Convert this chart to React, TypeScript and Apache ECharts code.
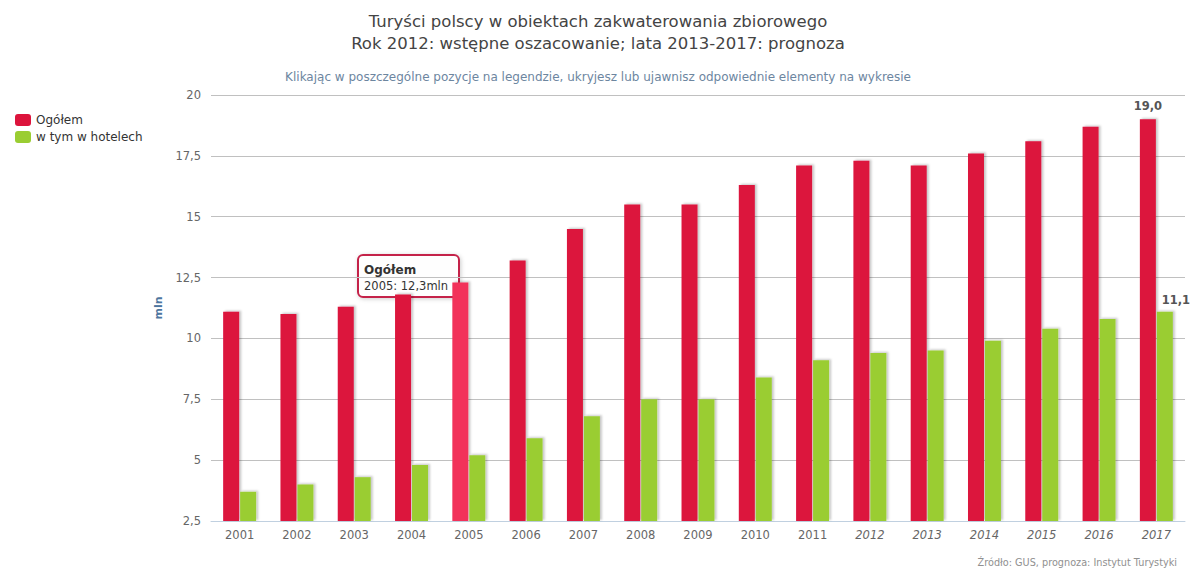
import React, { useEffect, useRef } from "react";
import * as echarts from "echarts";

const years = ["2001","2002","2003","2004","2005","2006","2007","2008","2009","2010","2011","2012","2013","2014","2015","2016","2017"];
const forecastFrom = 2012;
const ogolem = [11.1, 11.0, 11.3, 11.8, 12.3, 13.2, 14.5, 15.5, 15.5, 16.3, 17.1, 17.3, 17.1, 17.6, 18.1, 18.7, 19.0];
const hotele = [3.7, 4.0, 4.3, 4.8, 5.2, 5.9, 6.8, 7.5, 7.5, 8.4, 9.1, 9.4, 9.5, 9.9, 10.4, 10.8, 11.1];
const yTicks = { min: 2.5, max: 20, interval: 2.5 };
const hoverIndex = 4;

const FONT = "DejaVu Sans";
const RED = "#DC143C";
const GREEN = "#9ACD32";

const fmt = (v: number) => String(v).replace(".", ",");

export default function App() {
  const ref = useRef<HTMLDivElement>(null);
  useEffect(() => {
    document.body.style.margin = "0";
    const chart = echarts.init(ref.current!, null, { renderer: "svg" });
    const last = years.length - 1;
    const shadow = { shadowColor: "rgba(0,0,0,0.22)", shadowOffsetX: 2, shadowOffsetY: -1, shadowBlur: 2 };
    const titleStyle = { fontFamily: FONT, fontSize: 16.5, fontWeight: "normal", color: "#444" };
    chart.setOption({
      animation: false,
      textStyle: { fontFamily: FONT },
      title: [
        {
          text: "Turyści polscy w obiektach zakwaterowania zbiorowego",
          left: "center",
          top: 8,
          textStyle: titleStyle,
        },
        {
          text: "Rok 2012: wstępne oszacowanie; lata 2013-2017: prognoza",
          left: "center",
          top: 30,
          textStyle: titleStyle,
        },
        {
          text: "Klikając w poszczególne pozycje na legendzie, ukryjesz lub ujawnisz odpowiednie elementy na wykresie",
          left: "center",
          top: 66,
          textStyle: { fontFamily: FONT, fontSize: 12, fontWeight: "normal", color: "#6D869F" },
        },
        {
          text: "Źródło: GUS, prognoza: Instytut Turystyki",
          right: 14,
          top: 552,
          textStyle: { fontFamily: FONT, fontSize: 9.7, fontWeight: "normal", color: "#909090" },
        },
      ],
      legend: {
        orient: "vertical",
        left: 10,
        top: 109,
        itemWidth: 16,
        itemHeight: 12,
        itemGap: 5,
        icon: "roundRect",
        textStyle: { fontFamily: FONT, fontSize: 12, color: "#333" },
        data: ["Ogółem", "w tym w hotelech"],
      },
      grid: { left: 211, right: 11, top: 95, bottom: 48 },
      xAxis: {
        type: "category",
        data: years.map((y) => ({
          value: y,
          textStyle: Number(y) >= forecastFrom ? { fontStyle: "italic" } : {},
        })),
        axisLine: { lineStyle: { color: "#C0D0E0" } },
        axisTick: { alignWithLabel: false, lineStyle: { color: "#C0D0E0" }, length: 5 },
        axisLabel: { color: "#666", fontSize: 11.5, fontFamily: FONT, margin: 8 },
      },
      yAxis: {
        type: "value",
        min: yTicks.min,
        max: yTicks.max,
        interval: yTicks.interval,
        name: "mln",
        nameLocation: "middle",
        nameGap: 46,
        nameTextStyle: { color: "#4D759E", fontWeight: "bold", fontSize: 11, fontFamily: FONT },
        axisLabel: { color: "#666", fontSize: 11.5, fontFamily: FONT, formatter: (v: number) => fmt(v), margin: 10 },
        splitLine: { lineStyle: { color: "#C0C0C0" } },
        axisLine: { show: false },
        axisTick: { show: false },
      },
      series: [
        {
          name: "Ogółem",
          type: "bar",
          barWidth: 16,
          barGap: "6%",
          itemStyle: { color: RED, ...shadow },
          data: ogolem.map((v, i) => ({
            value: v,
            itemStyle: i === hoverIndex ? { color: "#F2325A" } : undefined,
            label:
              i === last
                ? { show: true, position: "top", formatter: (p: any) => p.value.toFixed(1).replace(".", ","), color: "#555", fontWeight: "bold", fontSize: 11.5, fontFamily: FONT, distance: 7 }
                : undefined,
          })),
        },
        {
          name: "w tym w hotelech",
          type: "bar",
          barWidth: 16,
          itemStyle: { color: GREEN, ...shadow },
          data: hotele.map((v, i) => ({
            value: v,
            label:
              i === last
                ? { show: true, position: "top", offset: [11, 0], formatter: (p: any) => fmt(p.value), color: "#555", fontWeight: "bold", fontSize: 11.5, fontFamily: FONT, distance: 6 }
                : undefined,
          })),
        },
      ],
      graphic: [
        {
          type: "group",
          left: 357,
          top: 254,
          z: 100,
          children: [
            {
              type: "rect",
              shape: { x: 0, y: 0, width: 101, height: 42, r: 5 },
              style: { fill: "rgba(255,255,255,0.95)", stroke: "#C4234A", lineWidth: 2, shadowColor: "rgba(0,0,0,0.2)", shadowBlur: 4, shadowOffsetX: 1, shadowOffsetY: 1 },
            },
            {
              type: "text",
              x: 6,
              y: 9,
              style: { text: "Ogółem", font: `bold 12px ${FONT}`, fill: "#333" },
            },
            {
              type: "text",
              x: 6,
              y: 25,
              style: { text: "2005: 12,3mln", font: `11.5px ${FONT}`, fill: "#333" },
            },
          ],
        },
      ],
    });
    return () => chart.dispose();
  }, []);
  return <div ref={ref} style={{ width: 1196, height: 569 }} />;
}
